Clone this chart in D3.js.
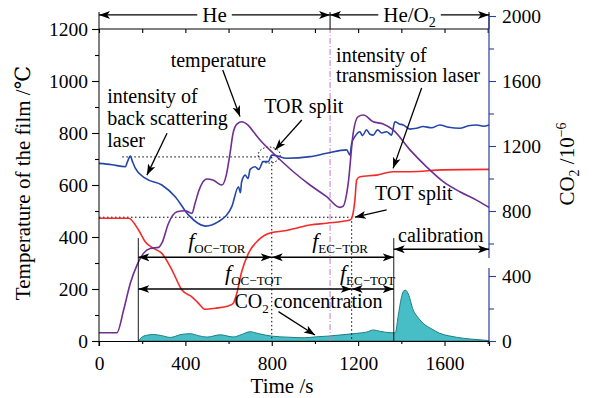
<!DOCTYPE html>
<html>
<head>
<meta charset="utf-8">
<script src="https://cdn.jsdelivr.net/npm/d3@7"></script>
<style>
  body { margin: 0; background: #fff; }
  svg { font-family: "Liberation Serif", "DejaVu Serif", serif; }
</style>
</head>
<body>
<div id="chart"></div>
<script>
// temperature of the film (°C)
const tempTime = [0, 83, 114, 145, 176, 206, 237, 276, 291, 322, 361, 399, 430, 445, 461, 480, 499, 530, 569, 590, 607, 621, 640, 661, 690, 720, 746, 807, 900, 977, 1054, 1116, 1131, 1154, 1177, 1200, 1224, 1270, 1316, 1362, 1440, 1517, 1594, 1671, 1748, 1806];
const tempVal  = [32, 32, 119, 222, 292, 337, 356, 360, 376, 453, 497, 501, 491, 530, 575, 610, 623, 618, 600, 640, 723, 800, 835, 843, 830, 800, 773, 722, 651, 600, 555, 514, 519, 606, 799, 863, 869, 843, 835, 812, 735, 670, 613, 574, 542, 514];

// intensity of back scattering laser (left scale units)
const backTime = [0, 60, 122, 132, 145, 155, 168, 214, 291, 353, 414, 492, 553, 615, 646, 655, 660, 677, 690, 700, 723, 740, 760, 784, 800, 807, 869, 977, 1054, 1147, 1162, 1170, 1185, 1208, 1220, 1239, 1255, 1270, 1290, 1310, 1332, 1355, 1370, 1390, 1409, 1440, 1470, 1500, 1540, 1578, 1620, 1671, 1710, 1748, 1780, 1806];
const backVal  = [683, 678, 670, 690, 711, 690, 665, 626, 600, 555, 485, 442, 459, 517, 593, 570, 610, 638, 625, 660, 670, 660, 690, 690, 715, 715, 703, 709, 722, 735, 715, 760, 786, 805, 790, 812, 795, 792, 812, 800, 805, 792, 843, 835, 831, 815, 818, 825, 820, 831, 822, 818, 828, 831, 826, 831];

// intensity of transmission laser (left scale units)
const transTime = [0, 137, 183, 214, 253, 291, 338, 384, 430, 461, 492, 538, 599, 622, 638, 661, 692, 738, 800, 861, 908, 977, 1054, 1162, 1170, 1185, 1193, 1208, 1286, 1362, 1440, 1594, 1806];
const transVal  = [472, 472, 427, 382, 356, 337, 273, 196, 170, 145, 122, 126, 135, 145, 183, 267, 337, 388, 417, 424, 433, 446, 453, 465, 472, 542, 619, 632, 638, 651, 651, 658, 660];

// CO2 concentration (10^-6, right scale)
const co2Time = [182, 195, 220, 252, 290, 330, 380, 423, 460, 500, 561, 622, 660, 700, 740, 800, 885, 950, 1008, 1060, 1116, 1193, 1240, 1270, 1300, 1347, 1372, 1385, 1400, 1412, 1420, 1432, 1455, 1480, 1501, 1540, 1578, 1620, 1655, 1720, 1778, 1806];
const co2Val  = [0, 20, 35, 40, 33, 22, 40, 45, 33, 24, 38, 25, 40, 57, 45, 30, 23, 20, 26, 30, 37, 47, 55, 68, 60, 51, 50, 150, 265, 310, 312, 290, 191, 140, 109, 75, 47, 32, 23, 12, 6, 2];

const xTicks = [0, 200, 400, 600, 800, 1000, 1200, 1400, 1600, 1800];
const yLeftTicks = [0, 100, 200, 300, 400, 500, 600, 700, 800, 900, 1000, 1100, 1200];
const yRightTicks = [0, 200, 400, 600, 800, 1000, 1200, 1400, 1600, 1800, 2000];

const width = 595, height = 398;
const svg = d3.select("#chart").append("svg")
  .attr("width", width).attr("height", height);

const x = d3.scaleLinear().domain([0, 1806]).range([99, 489]);
const yL = d3.scaleLinear().domain([0, 1200]).range([341, 29]);
const yR = d3.scaleLinear().domain([0, 2000]).range([341, 16]);

const defs = svg.append("defs");
defs.append("marker")
  .attr("id", "arr")
  .attr("viewBox", "0 -5 10 10")
  .attr("refX", 10).attr("refY", 0)
  .attr("markerUnits", "userSpaceOnUse")
  .attr("markerWidth", 11).attr("markerHeight", 11)
  .attr("orient", "auto-start-reverse")
  .append("path")
  .attr("d", "M0,-3.6L10,0L0,3.6L2.5,0Z")
  .attr("fill", "#000");

// helpers
function line(g, t1, v1, t2, v2, opts) {
  const l = g.append("line")
    .attr("x1", x(t1)).attr("y1", yL(v1))
    .attr("x2", x(t2)).attr("y2", yL(v2))
    .attr("stroke", (opts && opts.color) || "#000")
    .attr("stroke-width", (opts && opts.w) || 1);
  if (opts && opts.dash) l.attr("stroke-dasharray", opts.dash);
  if (opts && opts.start) l.attr("marker-start", "url(#arr)");
  if (opts && opts.end) l.attr("marker-end", "url(#arr)");
  return l;
}

// CO2 area
const co2 = co2Time.map((t, i) => [t, co2Val[i]]);
svg.append("path")
  .datum(co2)
  .attr("d", d3.area().x(d => x(d[0])).y0(yR(0)).y1(d => yR(d[1])).curve(d3.curveMonotoneX))
  .attr("fill", "#47bec6")
  .attr("stroke", "#1d7e84")
  .attr("stroke-width", 1);

// dash-dot gas switch line
line(svg, 1070, 0, 1070, 1200, {color: "#c77bc9", dash: "6,2,1,2"});

// dotted guide lines
const ann = svg.append("g");
line(ann, 108, 708, 800, 708, {dash: "1.5,2.5"});
line(ann, 800, 708, 800, 0, {dash: "1.5,2.5"});
line(ann, 0, 476, 1170, 476, {dash: "1.5,2.5"});
line(ann, 1170, 476, 1170, 0, {dash: "1.5,2.5"});
ann.append("ellipse")
  .attr("cx", x(788)).attr("cy", yL(715))
  .attr("rx", 11).attr("ry", 8)
  .attr("fill", "none").attr("stroke", "#000")
  .attr("stroke-width", 1).attr("stroke-dasharray", "1.5,2");

// curves
function curve(tArr, vArr, color) {
  svg.append("path")
    .datum(tArr.map((t, i) => [t, vArr[i]]))
    .attr("d", d3.line().x(d => x(d[0])).y(d => yL(d[1])).curve(d3.curveMonotoneX))
    .attr("fill", "none")
    .attr("stroke", color)
    .attr("stroke-width", 1.6);
}
curve(backTime, backVal, "#2546a8");
curve(transTime, transVal, "#f42a2a");
curve(tempTime, tempVal, "#6e2f92");

// axes
const axB = svg.append("g").attr("transform", `translate(0,${yL(0)})`)
  .call(d3.axisBottom(x).tickValues(xTicks).tickSize(5).tickPadding(10)
    .tickFormat(d => d % 400 === 0 ? d : ""));
axB.selectAll(".tick line").filter(d => d % 400 !== 0).attr("y2", 3);

const axT = svg.append("g").attr("transform", `translate(0,${yL(1200)})`)
  .call(d3.axisBottom(x).tickValues(xTicks).tickSize(4).tickFormat(""));
axT.select(".domain").remove();
svg.append("line").attr("x1", x(0)).attr("x2", x(1806))
  .attr("y1", yL(1200)).attr("y2", yL(1200)).attr("stroke", "#000");

const axL = svg.append("g").attr("transform", `translate(${x(0)},0)`)
  .call(d3.axisLeft(yL).tickValues(yLeftTicks).tickSize(7).tickPadding(4)
    .tickFormat(d => d % 200 === 0 ? d : ""));
axL.selectAll(".tick line").filter(d => d % 200 !== 0).attr("x2", -4);
axL.select(".domain").remove();
svg.append("line").attr("x1", x(0)).attr("x2", x(0))
  .attr("y1", yL(0) + 5).attr("y2", 12).attr("stroke", "#000");

const axisBlue = "#2b3f9e";
const axR = svg.append("g").attr("transform", `translate(${x(1806)},0)`)
  .call(d3.axisRight(yR).tickValues(yRightTicks).tickSize(7).tickPadding(6)
    .tickFormat(d => d % 400 === 0 ? d : ""));
axR.select(".domain").remove();
axR.selectAll(".tick line").attr("stroke", axisBlue);
axR.selectAll(".tick line").filter(d => d % 400 !== 0).attr("x2", 5);
svg.append("line").attr("x1", x(1806)).attr("x2", x(1806))
  .attr("y1", 12).attr("y2", yL(1200)).attr("stroke", "#000");
// broken right axis line
[[2012, 511], [449, 0]].forEach(seg => {
  svg.append("line").attr("x1", x(1806)).attr("x2", x(1806))
    .attr("y1", yR(seg[0])).attr("y2", yR(seg[1]))
    .attr("stroke", axisBlue).attr("stroke-width", 1.2);
});

svg.selectAll(".tick text")
  .attr("font-family", "Liberation Serif").attr("font-size", 19.5).attr("fill", "#000");
svg.selectAll(".domain, .tick line").attr("stroke-width", 1.1);

// axis titles
svg.append("text")
  .attr("transform", `translate(30,183) rotate(-90)`)
  .attr("text-anchor", "middle").attr("font-size", 21)
  .text("Temperature of the film /℃");
svg.append("text")
  .attr("x", 282).attr("y", 393)
  .attr("text-anchor", "middle").attr("font-size", 21)
  .text("Time /s");
const rt = svg.append("text")
  .attr("transform", `translate(574,164) rotate(-90)`)
  .attr("text-anchor", "middle").attr("font-size", 21);
rt.append("tspan").text("CO");
rt.append("tspan").attr("font-size", 14).attr("dy", 5).text("2");
rt.append("tspan").attr("dy", -5).text(" /10");
rt.append("tspan").attr("font-size", 14).attr("dy", -8).text("−6");

// header: He / He/O2
function header(t1, t2, parts) {
  const txt = svg.append("text")
    .attr("x", x((t1 + t2) / 2)).attr("y", yL(1227))
    .attr("text-anchor", "middle").attr("font-size", 21);
  parts.forEach(p => {
    const s = txt.append("tspan").text(p.s);
    if (p.sub) s.attr("font-size", 14).attr("dy", 5);
  });
  const bb = txt.node().getBBox();
  line(svg, t1, 1254, x.invert(bb.x - 5), 1254, {w: 1.3, start: true});
  line(svg, x.invert(bb.x + bb.width + 5), 1254, t2, 1254, {w: 1.3, end: true});
}
header(0, 1070, [{s: "He"}]);
header(1070, 1806, [{s: "He/O"}, {s: "2", sub: true}]);
line(svg, 1070, 1265, 1070, 1200, {});

// labels
function label(t, v, anchor, parts) {
  const txt = svg.append("text")
    .attr("x", x(t)).attr("y", yL(v))
    .attr("text-anchor", anchor).attr("font-size", 20);
  parts.forEach(p => {
    const s = txt.append("tspan").text(p.s);
    if (p.sub) s.attr("font-size", 13).attr("dy", 5);
    if (p.up) s.attr("dy", -5);
    if (p.it) s.attr("font-style", "italic").attr("font-size", 22);
  });
}
label(553, 1054, "middle", [{s: "temperature"}]);
label(38, 915, "start", [{s: "intensity of"}]);
label(38, 831, "start", [{s: "back scattering"}]);
label(38, 746, "start", [{s: "laser"}]);
label(765, 877, "start", [{s: "TOR split"}]);
label(1098, 1073, "start", [{s: "intensity of"}]);
label(1098, 996, "start", [{s: "transmission laser"}]);
label(1278, 542, "start", [{s: "TOT split"}]);
label(1583, 381, "middle", [{s: "calibration"}]);
label(413, 358, "start", [{s: "f", it: true}, {s: "OC−TOR", sub: true}]);
label(987, 358, "start", [{s: "f", it: true}, {s: "EC−TOR", sub: true}]);
label(584, 235, "start", [{s: "f", it: true}, {s: "OC−TOT", sub: true}]);
label(1116, 235, "start", [{s: "f", it: true}, {s: "EC−TOT", sub: true}]);
label(627, 127, "start", [{s: "CO"}, {s: "2", sub: true}, {s: " concentration", up: true}]);

// pointer arrows
line(svg, 315, 799, 222, 638, {w: 1.3, end: true});
line(svg, 573, 1042, 653, 863, {w: 1.3, end: true});
line(svg, 939, 850, 815, 735, {w: 1.3, end: true});
line(svg, 1494, 973, 1362, 664, {w: 1.3, end: true});
line(svg, 1332, 504, 1185, 476, {w: 1.3, end: true});
line(svg, 831, 113, 1000, 23, {w: 1.3, end: true});

// range markers
line(svg, 182, 396, 182, 0, {w: 0.9});
line(svg, 1365, 396, 1365, 0, {w: 0.9});
line(svg, 182, 322, 800, 322, {w: 1.4, start: true, end: true});
line(svg, 800, 322, 1365, 322, {w: 1.4, start: true, end: true});
line(svg, 1365, 353, 1806, 353, {w: 1.4, start: true, end: true});
line(svg, 182, 200, 1170, 200, {w: 1.4, start: true, end: true});
line(svg, 1170, 200, 1365, 200, {w: 1.4, start: true, end: true});
</script>
</body>
</html>
